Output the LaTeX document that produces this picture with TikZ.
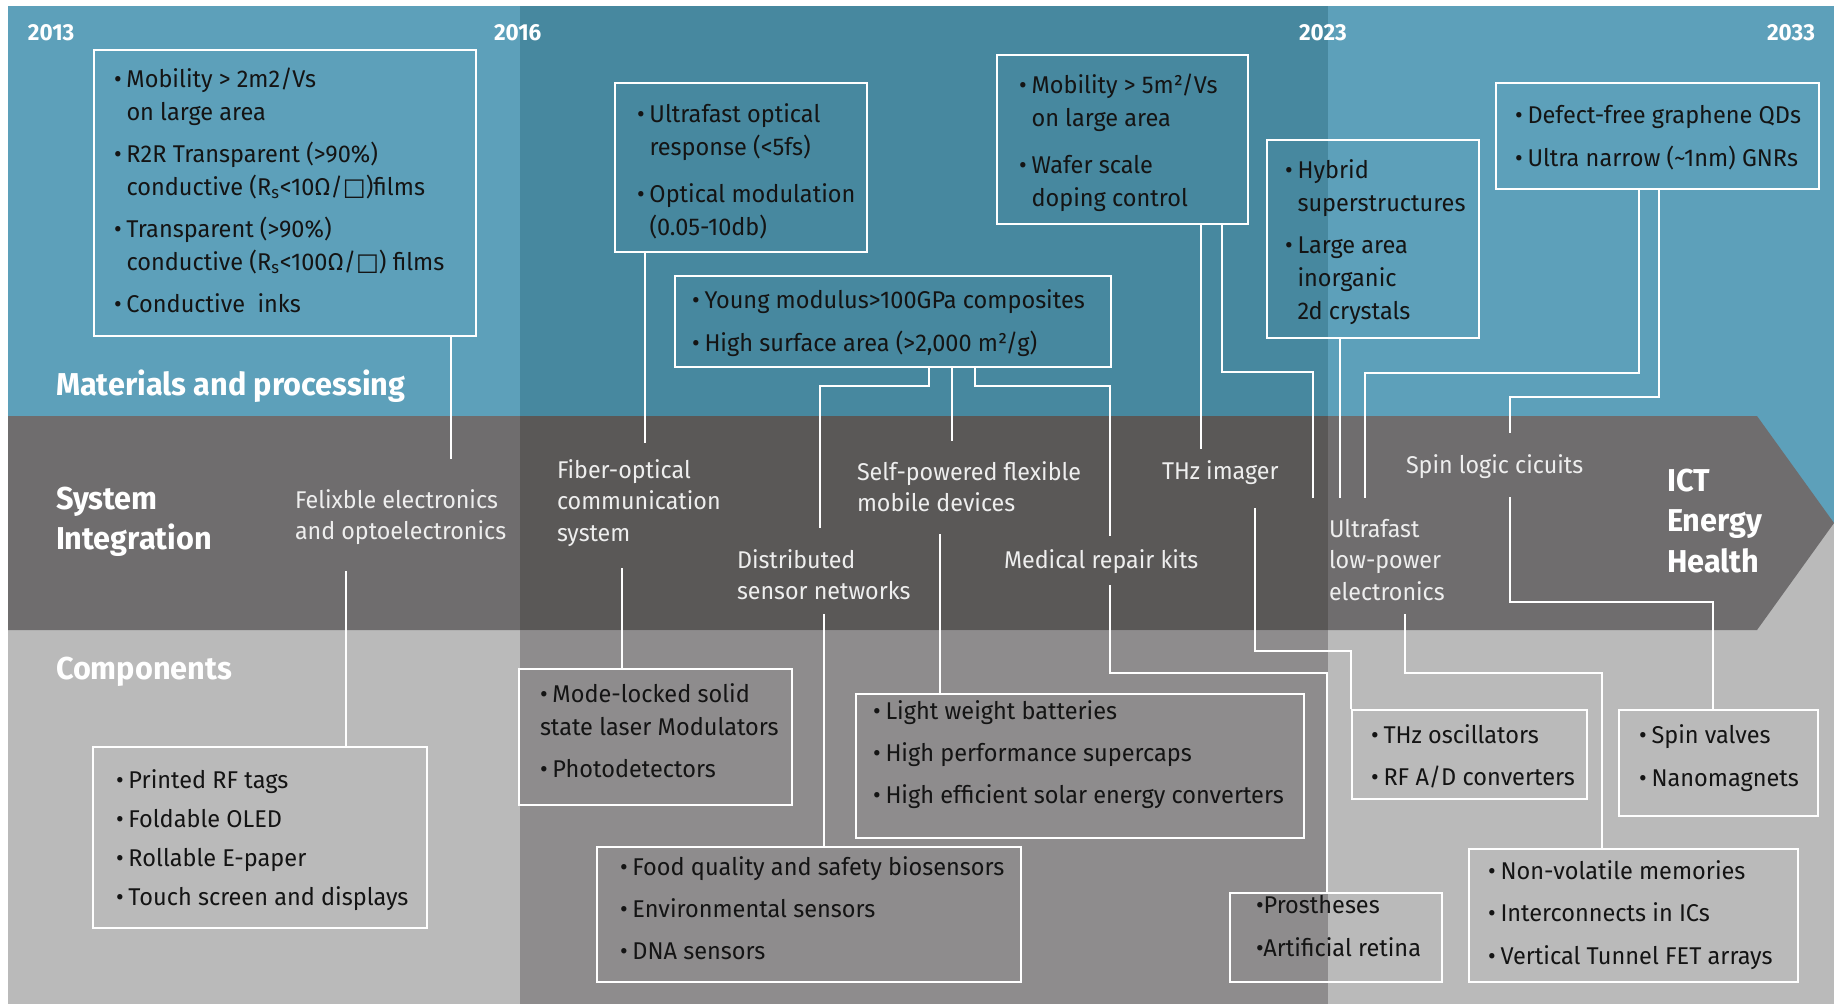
\documentclass[tikz,border=0pt]{standalone}
\usepackage{fontspec}
\setmainfont{Fira Sans}[FakeStretch=0.97]
\newfontfamily\lblface{Fira Sans}[FakeStretch=0.96]
\newfontfamily\symfont{DejaVu Sans}
\usetikzlibrary{fit}

% palette
\definecolor{blueL}{HTML}{5DA0BA}
\definecolor{blueD}{HTML}{47889F}
\definecolor{midL}{HTML}{6F6D6E}
\definecolor{midD}{HTML}{5A5857}
\definecolor{lowL}{HTML}{BABABA}
\definecolor{lowD}{HTML}{8E8C8D}
\definecolor{ink}{HTML}{141414}
\definecolor{pale}{HTML}{EEEEEE}

\newcommand\bodyfont{\fontsize{13.8pt}{18.8pt}\selectfont}
\newcommand\lblfont{\lblface\fontsize{13.8pt}{18.2pt}\selectfont}
\newcommand\headfont{\fontsize{18pt}{23.3pt}\selectfont\bfseries}
\newcommand\yearfont{\fontsize{13.2pt}{16pt}\selectfont\bfseries}
\newcommand\bl{\makebox[0.25cm][l]{•}}
\newcommand\ind{\hspace*{0.25cm}}
\newcommand\sqr{{\symfont □}}
\newcommand\lines[1]{\parbox[t]{12cm}{\raggedright #1}}

\begin{document}
\begin{tikzpicture}[x=0.02cm, y=-0.02cm,
  box/.style={draw=white, line width=1.4pt, inner sep=0pt},
  tx/.style={anchor=base west, inner sep=0pt, outer sep=0pt, font=\bodyfont, text=ink},
  lbl/.style={anchor=base west, inner sep=0pt, outer sep=0pt, font=\lblfont, text=pale},
  hd/.style={anchor=base west, inner sep=0pt, outer sep=0pt, font=\headfont, text=white},
  yr/.style={anchor=base west, inner sep=0pt, outer sep=0pt, font=\yearfont, text=white},
  link/.style={draw=white, line width=1.4pt, line join=miter}]

\useasboundingbox (0,0) rectangle (1834,1005);
\fill[white] (0,0) rectangle (1834,1005);

% three bands, with the 2016-2023 column shaded darker
\fill[blueL] (8,6) rectangle (1834,523);
\fill[blueD] (520,6) rectangle (1328,416);
\fill[lowL] (8,523) rectangle (1834,1004);
\fill[lowD] (520,630) rectangle (1328,1004);
\fill[midL] (8,416) -- (1757,416) -- (1834,523) -- (1757,630) -- (8,630) -- cycle;
\fill[midD] (520,416) rectangle (1328,630);

% years
\node[yr] (y2013) at (28,40) {2013};
\node[yr] (y2016) at (494,40) {2016};
\node[yr] (y2023) at (1299,40) {2023};
\node[yr] (y2033) at (1767,40) {2033};

% band titles
\node[hd] (hmat) at (56,395) {Materials and processing};
\node[hd] (hsys) at (56,509) {\lines{System\\Integration}};
\node[hd] (hcom) at (56,679) {Components};
\node[hd] (hict) at (1667,491) {\lines{ICT\\Energy\\Health}};

% materials boxes
\node[box, fit={(94,50) (476,336)}] (b1) {};
\node[tx] (t1) at (114,87) {\lines{\bl Mobility > 2m2/Vs\\\ind on large area\\[0.18cm]
  \bl R2R Transparent (>90\%)\\\ind conductive (R\textsubscript{s}<10Ω/\sqr)films\\[0.18cm]
  \bl Transparent (>90\%)\\\ind conductive (R\textsubscript{s}<100Ω/\sqr) films\\[0.18cm]
  \bl Conductive\ \ inks}};

\node[box, fit={(615,83) (867,252)}] (b3) {};
\node[tx] (t3) at (637,122) {\lines{\bl Ultrafast optical\\\ind response (<5fs)\\[0.28cm]
  \bl Optical modulation\\\ind (0.05-10db)}};

\node[box, fit={(675,276) (1111,367)}] (b5) {};
\node[tx] (t5) at (692,308) {\lines{\bl Young modulus>100GPa composites\\[0.2cm]
  \bl High surface area (>2,000 m²/g)}};

\node[box, fit={(997,55) (1248,224)}] (b12) {};
\node[tx] (t12) at (1019,93) {\lines{\bl Mobility > 5m²/Vs\\\ind on large area\\[0.28cm]
  \bl Wafer scale\\\ind doping control}};

\node[box, fit={(1267,140) (1479,338)}] (b13) {};
\node[tx] (t13) at (1285,178) {\lines{\bl Hybrid\\\ind superstructures\\[0.18cm]
  \bl Large area\\\ind inorganic\\\ind 2d crystals}};

\node[box, fit={(1496,83) (1819,189)}] (b14) {};
\node[tx] (t14) at (1515,123) {\lines{\bl Defect-free graphene QDs\\[0.2cm]
  \bl Ultra narrow (\textasciitilde1nm) GNRs}};

% system integration labels
\node[lbl] (lfel) at (295,508) {\lines{Felixble electronics\\and optoelectronics}};
\node[lbl] (lfib) at (557,478) {\lines{Fiber-optical\\communication\\system}};
\node[lbl] (lsel) at (857,480) {\lines{Self-powered flexible\\mobile devices}};
\node[lbl] (ldis) at (737,568) {\lines{Distributed\\sensor networks}};
\node[lbl] (lmed) at (1004,568) {Medical repair kits};
\node[lbl] (lthz) at (1162,479) {THz imager};
\node[lbl] (lult) at (1329,537) {\lines{Ultrafast\\low-power\\electronics}};
\node[lbl] (lspn) at (1406,473) {Spin logic cicuits};

% component boxes
\node[box, fit={(93,747) (427,928)}] (b2) {};
\node[tx] (t2) at (116,788) {\lines{\bl Printed RF tags\\[0.12cm]
  \bl Foldable OLED\\[0.12cm]\bl Rollable E-paper\\[0.12cm]\bl Touch screen and displays}};

\node[box, fit={(519,669) (792,805)}] (b4) {};
\node[tx] (t4) at (540,702) {\lines{\bl Mode-locked solid\\state laser Modulators\\[0.18cm]
  \bl Photodetectors}};

\node[box, fit={(856,694) (1304,838)}] (b6) {};
\node[tx] (t6) at (873,719) {\lines{\bl Light weight batteries\\[0.18cm]
  \bl High performance supercaps\\[0.18cm]\bl High efficient solar energy converters}};

\node[box, fit={(597,847) (1021,982)}] (b7) {};
\node[tx] (t7) at (620,875) {\lines{\bl Food quality and safety biosensors\\[0.18cm]
  \bl Environmental sensors\\[0.18cm]\bl DNA sensors}};

\node[box, fit={(1230,893) (1442,982)}] (b8) {};
\node[tx] (t8) at (1256,913) {\lines{•Prostheses\\[0.2cm]•Artificial retina}};

\node[box, fit={(1352,710) (1587,799)}] (b9) {};
\node[tx] (t9) at (1371,743) {\lines{\bl THz oscillators\\[0.18cm]\bl RF A/D converters}};

\node[box, fit={(1619,710) (1818,816)}] (b10) {};
\node[tx] (t10) at (1639,743) {\lines{\bl Spin valves\\[0.2cm]\bl Nanomagnets}};

\node[box, fit={(1469,849) (1798,982)}] (b11) {};
\node[tx] (t11) at (1488,879) {\lines{\bl Non-volatile memories\\[0.19cm]
  \bl Interconnects in ICs\\[0.19cm]\bl Vertical Tunnel FET arrays}};

% free ends of the connectors next to the labels
\coordinate (fel-in) at (451,459);
\coordinate (fel-out) at (346,571);
\coordinate (fib-in) at (645,443);
\coordinate (fib-out) at (622,568);
\coordinate (dis-in) at (820,528);
\coordinate (dis-out) at (824,614);
\coordinate (sel-in) at (952,441);
\coordinate (sel-out) at (940,534);
\coordinate (med-in) at (1110,536);
\coordinate (med-out) at (1110,585);
\coordinate (thz-in) at (1201,449);
\coordinate (thz-out) at (1255,508);
\coordinate (ult-in1) at (1313,498);
\coordinate (ult-in2) at (1340,498);
\coordinate (ult-in3) at (1365,498);
\coordinate (ult-out) at (1405,614);
\coordinate (spn-in) at (1510,433);
\coordinate (spn-out) at (1510,497);

% connectors
\draw[link] (b1.south -| fel-in) -- (fel-in);
\draw[link] (fel-out) -- (b2.north -| fel-out);
\draw[link] (b3.south -| fib-in) -- (fib-in);
\draw[link] (fib-out) -- (b4.north -| fib-out);
\draw[link] (b5.south -| 929,0) -- (929,386) -| (dis-in);
\draw[link] (b5.south -| sel-in) -- (sel-in);
\draw[link] (b5.south -| 975,0) -- (975,386) -| (med-in);
\draw[link] (dis-out) -- (b7.north -| dis-out);
\draw[link] (sel-out) -- (b6.north -| sel-out);
\draw[link] (med-out) -- (1110,673) -| (b8.north -| 1327,0);
\draw[link] (b12.south -| thz-in) -- (thz-in);
\draw[link] (b12.south -| 1222,0) -- (1222,372) -| (ult-in1);
\draw[link] (thz-out) -- (1255,651) -| (b9.north west);
\draw[link] (b13.south -| ult-in2) -- (ult-in2);
\draw[link] (b14.south -| 1639,0) -- (1639,373) -| (ult-in3);
\draw[link] (b14.south -| 1659,0) -- (1659,397) -| (spn-in);
\draw[link] (ult-out) -- (1405,673) -| (b11.north -| 1602,0);
\draw[link] (spn-out) -- (1510,602) -| (b10.north -| 1713,0);

\end{tikzpicture}
\end{document}
